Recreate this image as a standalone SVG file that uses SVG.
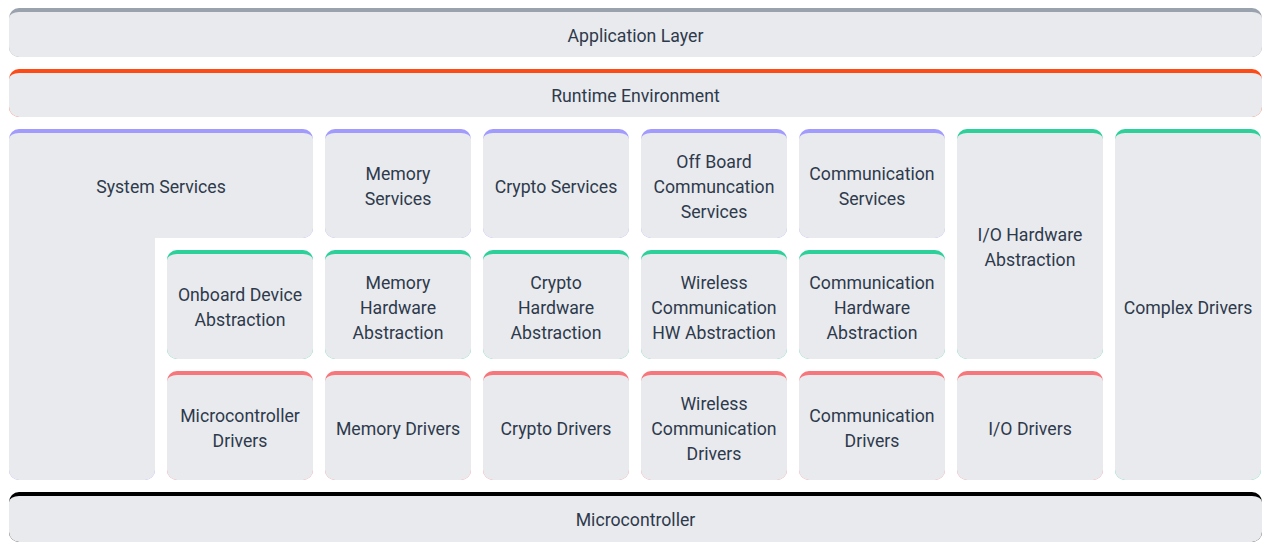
<svg xmlns="http://www.w3.org/2000/svg" xmlns:xlink="http://www.w3.org/1999/xlink" width="1270" height="554" viewBox="0 0 1270 554">
<style>
.bg{fill:#e9eaee}
.t{font-family:Roboto,"Liberation Sans",sans-serif;font-size:17.7px;fill:#2e3a4c;text-anchor:middle}
.gray{color:#9aa2ad}
.orange{color:#fd4a17}
.purple{color:#a29bfe}
.green{color:#2ed09a}
.red{color:#f7767b}
.black{color:#000000}
</style>
<defs>
<g id="cell">
<rect x="0" y="0" width="146" height="109" rx="10" fill="currentColor"/>
<path class="bg" d="M0,10 A10,6 0 0 1 10,4 H136 A10,6 0 0 1 146,10 V99 A10,10 0 0 1 136,109 H10 A10,10 0 0 1 0,99 Z"/>
</g>
<g id="cell2">
<rect x="0" y="0" width="146" height="230" rx="10" fill="currentColor"/>
<path class="bg" d="M0,10 A10,6 0 0 1 10,4 H136 A10,6 0 0 1 146,10 V220 A10,10 0 0 1 136,230 H10 A10,10 0 0 1 0,220 Z"/>
</g>
<g id="cell3">
<rect x="0" y="0" width="146" height="351" rx="10" fill="currentColor"/>
<path class="bg" d="M0,10 A10,6 0 0 1 10,4 H136 A10,6 0 0 1 146,10 V341 A10,10 0 0 1 136,351 H10 A10,10 0 0 1 0,341 Z"/>
</g>
</defs>
<rect width="1270" height="554" fill="#ffffff"/>

<g id="application-layer" class="gray">
<rect x="9" y="8" width="1253" height="49" rx="10" fill="currentColor"/>
<path class="bg" d="M9,18 A10,6 0 0 1 19,12 H1252 A10,6 0 0 1 1262,18 V47 A10,10 0 0 1 1252,57 H19 A10,10 0 0 1 9,47 Z"/>
<text class="t" x="635.5" y="42">Application Layer</text>
</g>

<g id="runtime-environment" class="orange">
<rect x="9" y="69" width="1253" height="48" rx="10" fill="currentColor"/>
<path class="bg" d="M9,79 A10,6 0 0 1 19,73 H1252 A10,6 0 0 1 1262,79 V107 A10,10 0 0 1 1252,117 H19 A10,10 0 0 1 9,107 Z"/>
<text class="t" x="635.5" y="102">Runtime Environment</text>
</g>

<g id="system-services" class="purple">
<path fill="currentColor" d="M9,139 A10,10 0 0 1 19,129 H303 A10,10 0 0 1 313,139 V228 A10,10 0 0 1 303,238 H155 V470 A10,10 0 0 1 145,480 H19 A10,10 0 0 1 9,470 Z"/>
<path class="bg" d="M9,139 A10,6 0 0 1 19,133 H303 A10,6 0 0 1 313,139 V228 A10,10 0 0 1 303,238 H155 V470 A10,10 0 0 1 145,480 H19 A10,10 0 0 1 9,470 Z"/>
<text class="t" x="161" y="193">System Services</text>
</g>

<g id="memory-services" class="purple">
<use xlink:href="#cell" x="325" y="129"/>
<text class="t" x="398" y="180">Memory</text>
<text class="t" x="398" y="205">Services</text>
</g>
<g id="crypto-services" class="purple">
<use xlink:href="#cell" x="483" y="129"/>
<text class="t" x="556" y="193">Crypto Services</text>
</g>
<g id="offboard-communication-services" class="purple">
<use xlink:href="#cell" x="641" y="129"/>
<text class="t" x="714" y="168">Off Board</text>
<text class="t" x="714" y="193">Communcation</text>
<text class="t" x="714" y="218">Services</text>
</g>
<g id="communication-services" class="purple">
<use xlink:href="#cell" x="799" y="129"/>
<text class="t" x="872" y="180">Communication</text>
<text class="t" x="872" y="205">Services</text>
</g>
<g id="io-hardware-abstraction" class="green">
<use xlink:href="#cell2" x="957" y="129"/>
<text class="t" x="1030" y="241">I/O Hardware</text>
<text class="t" x="1030" y="266">Abstraction</text>
</g>
<g id="complex-drivers" class="green">
<use xlink:href="#cell3" x="1115" y="129"/>
<text class="t" x="1188" y="314">Complex Drivers</text>
</g>

<g id="onboard-device-abstraction" class="green">
<use xlink:href="#cell" x="167" y="250"/>
<text class="t" x="240" y="301">Onboard Device</text>
<text class="t" x="240" y="326">Abstraction</text>
</g>
<g id="memory-hardware-abstraction" class="green">
<use xlink:href="#cell" x="325" y="250"/>
<text class="t" x="398" y="289">Memory</text>
<text class="t" x="398" y="314">Hardware</text>
<text class="t" x="398" y="339">Abstraction</text>
</g>
<g id="crypto-hardware-abstraction" class="green">
<use xlink:href="#cell" x="483" y="250"/>
<text class="t" x="556" y="289">Crypto</text>
<text class="t" x="556" y="314">Hardware</text>
<text class="t" x="556" y="339">Abstraction</text>
</g>
<g id="wireless-communication-hw-abstraction" class="green">
<use xlink:href="#cell" x="641" y="250"/>
<text class="t" x="714" y="289">Wireless</text>
<text class="t" x="714" y="314">Communication</text>
<text class="t" x="714" y="339">HW Abstraction</text>
</g>
<g id="communication-hardware-abstraction" class="green">
<use xlink:href="#cell" x="799" y="250"/>
<text class="t" x="872" y="289">Communication</text>
<text class="t" x="872" y="314">Hardware</text>
<text class="t" x="872" y="339">Abstraction</text>
</g>

<g id="microcontroller-drivers" class="red">
<use xlink:href="#cell" x="167" y="371"/>
<text class="t" x="240" y="422">Microcontroller</text>
<text class="t" x="240" y="447">Drivers</text>
</g>
<g id="memory-drivers" class="red">
<use xlink:href="#cell" x="325" y="371"/>
<text class="t" x="398" y="435">Memory Drivers</text>
</g>
<g id="crypto-drivers" class="red">
<use xlink:href="#cell" x="483" y="371"/>
<text class="t" x="556" y="435">Crypto Drivers</text>
</g>
<g id="wireless-communication-drivers" class="red">
<use xlink:href="#cell" x="641" y="371"/>
<text class="t" x="714" y="410">Wireless</text>
<text class="t" x="714" y="435">Communication</text>
<text class="t" x="714" y="460">Drivers</text>
</g>
<g id="communication-drivers" class="red">
<use xlink:href="#cell" x="799" y="371"/>
<text class="t" x="872" y="422">Communication</text>
<text class="t" x="872" y="447">Drivers</text>
</g>
<g id="io-drivers" class="red">
<use xlink:href="#cell" x="957" y="371"/>
<text class="t" x="1030" y="435">I/O Drivers</text>
</g>

<g id="microcontroller" class="black">
<rect x="9" y="492" width="1253" height="50" rx="10" fill="currentColor"/>
<path class="bg" d="M9,502 A10,6 0 0 1 19,496 H1252 A10,6 0 0 1 1262,502 V532 A10,10 0 0 1 1252,542 H19 A10,10 0 0 1 9,532 Z"/>
<text class="t" x="635.5" y="526">Microcontroller</text>
</g>

<g id="connectors"></g>
</svg>
